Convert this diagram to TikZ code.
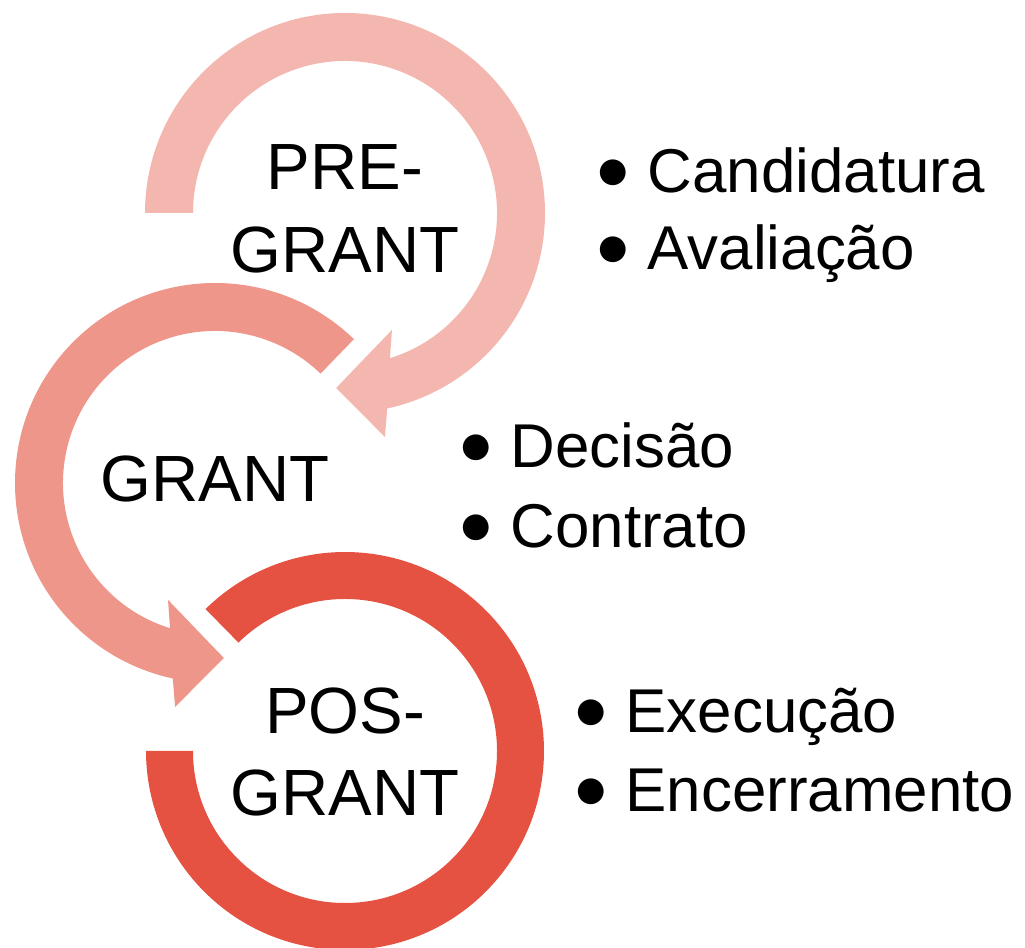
\documentclass[tikz,border=0pt]{standalone}
\usepackage{fontspec}
\setmainfont{Liberation Sans}
\newfontfamily\symfont{DejaVu Sans}
\usepackage{tikz}
\definecolor{preC}{HTML}{F4B7B0}
\definecolor{grantC}{HTML}{EF968B}
\definecolor{posC}{HTML}{E65241}
\newcommand{\bitem}[1]{\llap{\raisebox{0.11cm}{\makebox[0cm]{\fontsize{9.6pt}{11pt}\symfont ●}}\hspace{0.34cm}}#1}

\begin{document}
\begin{tikzpicture}[phase node/.style={align=center,inner sep=0pt,font=\fontsize{18.6pt}{23.6pt}\selectfont},item node/.style={anchor=base west,inner sep=0pt,font=\fontsize{17.6pt}{21pt}\selectfont}]
  \useasboundingbox (0,0) rectangle (10.25,9.47);

  \fill[preC,shift={(3.45,7.34)}] (180:2) arc[start angle=180,end angle=-77.8,radius=2]
    -- (-79.9:2.275) -- (-92.9:1.752) -- (-68.1:1.26) -- (-72.8:1.52)
    arc[start angle=-72.8,end angle=180,radius=1.52] -- cycle;
  \fill[grantC,shift={(2.15,4.64)}] (46:2) arc[start angle=46,end angle=257.8,radius=2]
    -- (259.9:2.275) -- (272.9:1.752) -- (248.1:1.26) -- (252.8:1.52)
    arc[start angle=252.8,end angle=46,radius=1.52] -- cycle;
  \fill[posC,shift={(3.45,1.96)}] (134.5:1.99) arc[start angle=134.5,end angle=-180,radius=1.99]
    -- (180:1.52) arc[start angle=-180,end angle=134.5,radius=1.52] -- cycle;

  \node[phase node] (1) at (3.45,7.38) {PRE-\\GRANT};
  \node[phase node] (2) at (2.15,4.68) {GRANT};
  \node[phase node] (3) at (3.45,1.95) {POS-\\GRANT};

  \node[item node] (4) at (6.47,7.54) {\bitem{Candidatura}};
  \node[item node] (5) at (6.47,6.77) {\bitem{Avaliação}};
  \node[item node] (6) at (5.10,4.79) {\bitem{Decisão}};
  \node[item node] (7) at (5.10,3.99) {\bitem{Contrato}};
  \node[item node] (8) at (6.25,2.14) {\bitem{Execução}};
  \node[item node] (9) at (6.25,1.35) {\bitem{Encerramento}};
\end{tikzpicture}
\end{document}
